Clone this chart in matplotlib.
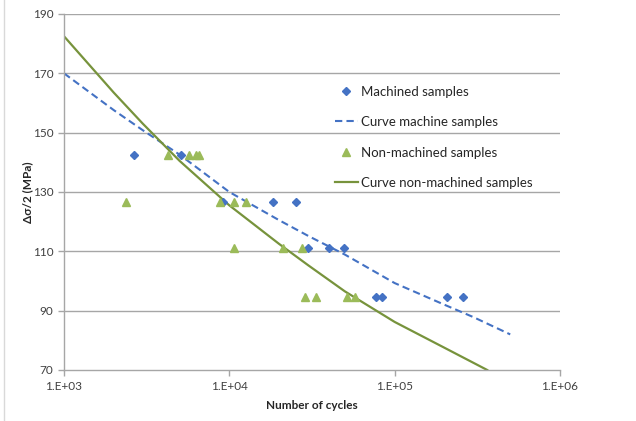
import matplotlib
matplotlib.use('Agg')
import matplotlib.pyplot as plt
from matplotlib.lines import Line2D

# machined samples (cycles, stress amplitude MPa)
mach_n = [2650, 5100, 9100, 18400, 25400, 29800, 40100, 49400, 77100, 84300, 207000, 260000]
mach_s = [142.5, 142.5, 126.5, 126.5, 126.5, 111, 111, 111, 94.5, 94.5, 94.5, 94.5]

# non-machined samples
non_n = [2360, 4260, 5730, 6300, 6600, 8800, 10700, 12700, 10700, 21000, 27400, 28700, 33600, 51800, 57400]
non_s = [126.5, 142.5, 142.5, 142.5, 142.5, 126.5, 126.5, 126.5, 111, 111, 111, 94.5, 94.5, 94.5, 94.5]

# fitted curves
curve_mach_n = [1e3, 2e3, 3e3, 5e3, 1e4, 2e4, 3e4, 5e4, 1e5, 2e5, 3e5, 5e5]
curve_mach_s = [170, 157.6, 150.8, 142.6, 130.0, 120.5, 115.2, 108.9, 99.3, 92.0, 87.8, 82.0]
curve_non_n = [1e3, 2e3, 3e3, 5e3, 1e4, 2e4, 3e4, 5e4, 1e5, 2e5, 3.63e5]
curve_non_s = [182.5, 163.5, 153.0, 140.5, 125.5, 112.5, 105.3, 96.5, 86.2, 77.5, 70]

x_ticks = [1e3, 1e4, 1e5, 1e6]
x_labels = ['1.E+03', '1.E+04', '1.E+05', '1.E+06']
y_ticks = [70, 90, 110, 130, 150, 170, 190]

plt.rcParams['font.family'] = ['Lato', 'DejaVu Sans']

fig = plt.figure(figsize=(6.36, 4.21), dpi=100)
ax = fig.add_axes([64 / 636, 1 - 370 / 421, 496 / 636, 356 / 421])

blue = '#4472C4'
green_m = '#9BBB59'
green_l = '#77933C'
grid_c = '#A6A6A6'

ax.plot(mach_n, mach_s, linestyle='none', marker='D', markersize=4.5, color=blue,
        label='Machined samples', zorder=3)
ax.plot(curve_mach_n, curve_mach_s, linestyle=(0, (3.5, 2)), linewidth=1.5, color=blue,
        label='Curve machine samples', zorder=2)
ax.plot(non_n, non_s, linestyle='none', marker='^', markersize=6, color=green_m,
        label='Non-machined samples', zorder=3)
ax.plot(curve_non_n, curve_non_s, linestyle='-', linewidth=1.6, color=green_l,
        label='Curve non-machined samples', zorder=2)

ax.set_xscale('log')
ax.set_xlim(1e3, 1e6)
ax.set_ylim(70, 190)
ax.set_xticks(x_ticks)
ax.set_xticklabels(x_labels)
ax.xaxis.set_minor_locator(matplotlib.ticker.NullLocator())
ax.set_yticks(y_ticks)

for y in y_ticks[1:]:
    ax.axhline(y, color=grid_c, linewidth=1, zorder=1)

for side in ['top', 'right']:
    ax.spines[side].set_visible(False)
for side in ['left', 'bottom']:
    ax.spines[side].set_color(grid_c)
    ax.spines[side].set_linewidth(1)

ax.tick_params(axis='both', colors=grid_c, labelcolor='#404040', labelsize=8.5, length=4, width=1)
ax.tick_params(axis='x', pad=4)

ax.set_xlabel('Number of cycles', fontsize=8.5, fontweight='bold', color='#262626', labelpad=6)
ax.set_ylabel('Δσ/2 (MPa)', fontsize=8.5, fontweight='bold', color='#262626', labelpad=0)

ax.legend(loc='upper left', bbox_to_anchor=(328 / 636, 1 - 79 / 421), bbox_transform=fig.transFigure,
          frameon=False, fontsize=9.5, labelspacing=1.4, handlelength=1.8, handletextpad=0.2,
          borderpad=0, labelcolor='#262626')

# light border on the left side of the picture
fig.add_artist(Line2D([4 / 636, 4 / 636], [0, 1], color='#D9D9D9', linewidth=1))

plt.savefig('out.png', dpi=100)
